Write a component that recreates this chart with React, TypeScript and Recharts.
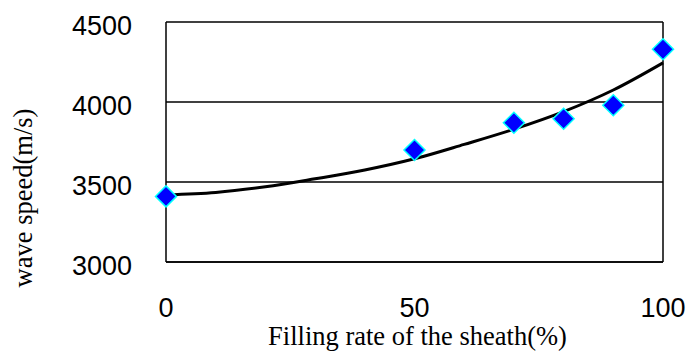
import {
	ComposedChart,
	Scatter,
	Line,
	XAxis,
	YAxis,
	CartesianGrid,
	ReferenceLine,
} from 'recharts'

// measured points
const fillRate = [0, 50, 70, 80, 90, 100]
const waveSpeed = [3410, 3700, 3870, 3895, 3980, 4330]

// trend curve
const trendRate = [0, 10, 20, 30, 40, 50, 60, 70, 80, 90, 100]
const trendSpeed = [3420, 3435, 3470, 3520, 3575, 3645, 3735, 3830, 3940, 4075, 4245]

const xTicks = [0, 50, 100]
const yTicks = [3000, 3500, 4000, 4500]

const points = fillRate.map((x, i) => ({ x, y: waveSpeed[i] }))
const trend = trendRate.map((x, i) => ({ x, y: trendSpeed[i] }))

const Diamond = (props: any) => {
	const { cx, cy } = props
	const r = 10.5
	return (
		<polygon
			points={`${cx},${cy - r} ${cx + r},${cy} ${cx},${cy + r} ${cx - r},${cy}`}
			fill='#0000FF'
			stroke='#00FFFF'
			strokeWidth={1.5}
		/>
	)
}

const sans = { fontFamily: '"Liberation Sans", Arial, sans-serif', fontSize: 27, fill: '#000' }
const serif = { fontFamily: '"Liberation Serif", "Times New Roman", serif', fontSize: 26.5, fill: '#000' }

// y label sits a bit below the middle of the plot in the original
const YLabel = ({ viewBox }: any) => {
	const x = viewBox.x + 23
	const y = viewBox.y + viewBox.height / 2 + 56
	return (
		<text
			x={x}
			y={y}
			transform={`rotate(-90, ${x}, ${y})`}
			textAnchor='middle'
			dominantBaseline='central'
			style={serif}>
			wave speed(m/s)
		</text>
	)
}

export default function App() {
	return (
		<div style={{ position: 'absolute', left: 0, top: 0 }}>
			<ComposedChart
				width={687}
				height={351}
				margin={{ top: 22, right: 24, bottom: 0, left: 0 }}>
				<CartesianGrid vertical={false} stroke='#000' strokeWidth={1.5} />
				<XAxis
					type='number'
					dataKey='x'
					domain={[0, 100]}
					ticks={xTicks}
					height={89}
					tickLine={false}
					tickSize={0}
					tickMargin={36}
					axisLine={{ stroke: '#000', strokeWidth: 1.5 }}
					tick={sans}
					label={{ value: 'Filling rate of the sheath(%)', position: 'insideBottom', offset: 6, dx: 3, style: serif }}
				/>
				<YAxis
					type='number'
					dataKey='y'
					domain={[3000, 4500]}
					ticks={yTicks}
					width={166}
					tickLine={false}
					tickSize={0}
					tickMargin={34}
					axisLine={{ stroke: '#000', strokeWidth: 1.5 }}
					tick={{ ...sans, dy: 3 }}
					label={{ content: <YLabel /> }}
				/>
				<ReferenceLine x={100} stroke='#000' strokeWidth={1.5} />
				<Line
					data={trend}
					dataKey='y'
					type='monotone'
					stroke='#000'
					strokeWidth={3}
					dot={false}
					isAnimationActive={false}
				/>
				<Scatter data={points} dataKey='y' shape={<Diamond />} isAnimationActive={false} />
			</ComposedChart>
		</div>
	)
}
